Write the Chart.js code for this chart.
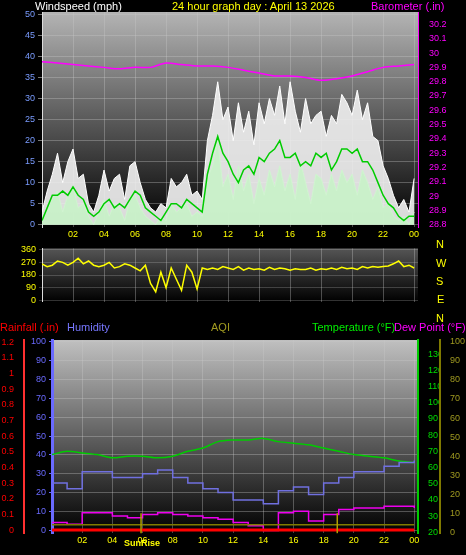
<!DOCTYPE html>
<html><head><meta charset="utf-8">
<script src="https://cdn.jsdelivr.net/npm/chart.js@4"></script>
<style>
body{margin:0;background:#000;width:466px;height:555px;overflow:hidden;position:relative;font-family:"Liberation Sans",Arial,sans-serif}
canvas{position:absolute;left:0}
.t{position:absolute;font-size:11px;white-space:nowrap;line-height:12px}
</style></head><body>
<canvas id="c1" style="top:0px" width="466" height="242"></canvas>
<canvas id="c2" style="top:240px" width="466" height="70"></canvas>
<canvas id="c3" style="top:320px" width="466" height="228"></canvas>
<div class="t" style="left:35px;top:0;color:#fff">Windspeed (mph)</div>
<div class="t" style="left:172px;top:0;color:#ff0">24 hour graph day : April 13 2026</div>
<div class="t" style="left:371px;top:0;color:#f0f">Barometer (.in)</div>
<div class="t" style="left:436px;top:238px;color:#ff0">N</div>
<div class="t" style="left:436px;top:257px;color:#ff0">W</div>
<div class="t" style="left:436px;top:275px;color:#ff0">S</div>
<div class="t" style="left:437px;top:293px;color:#ff0">E</div>
<div class="t" style="left:436px;top:312px;color:#ff0">N</div>
<div class="t" style="left:0;top:321px;color:#f00">Rainfall (.in)</div>
<div class="t" style="left:67px;top:321px;color:#77f">Humidity</div>
<div class="t" style="left:211px;top:321px;color:#a09a20">AQI</div>
<div class="t" style="left:312px;top:321px;color:#0e0">Temperature (°F)</div>
<div class="t" style="left:394px;top:321px;color:#f0f">Dew Point (°F)</div>
<div class="t" style="left:124px;top:537px;color:#ff0;font-size:9px;font-weight:bold">SunRise</div>
<script>
// ---- data ----
const windGust = [3,8,12, 17,10,15, 18,11,12, 5,3,7, 13,8,11, 12,6,14, 15,10,6, 4,3,5, 4,11,9, 10,12,7, 8,6,20, 26,34,25, 28,20,29, 22,27,19, 29,24,30, 26,33,24, 34,27,22, 30,24,26, 27,21,26, 24,31,29, 26,32,25, 29,21,20, 14,11,7, 4,6,3, 11];
const windSpeed = [1,4,6, 8,3,7, 9,4,5, 2,0,3, 6,2,5, 4,1,6, 7,4,2, 1,0,2, 1,5,3, 4,5,2, 3,2,11, 14,20,9, 12,6,14, 8,12,5, 11,7,13, 9,14,8, 12,6,15, 10,5,12, 11,7,12, 8,13,10, 12,7,13, 10,6,9, 4,5,2, 1,2,0, 3];
const windAvg = [1,4,7, 7,8,7, 9,7,6, 3,2,3, 5,6,4, 5,4,6, 8,7,4, 3,2,1, 3,5,5, 4,6,5, 4,3,12, 17,21,17, 15,12,10, 13,14,12, 16,15,17, 18,20,16, 16,17,14, 15,14,17, 16,17,13, 15,18,18, 17,18,15, 15,13,10, 7,5,4, 2,1,2, 2];
const windDir = [260,240,250, 280,270,250, 270,300,260, 280,250,240, 250,270,230, 240,260,250, 230,210,250, 120,60,200, 90,230,150, 70,250,200, 80,230,220, 230,220,240, 230,220,240, 215,230,220, 225,215,235, 220,230,225, 215,225,220, 220,230,215, 225,220,230, 220,235,225, 230,220,240, 230,240,235, 240,245,260, 280,240,250, 230];
const barometer = [29.94,29.93,29.92,29.91,29.90,29.89,29.90,29.90,29.93,29.92,29.91,29.91,29.90,29.88,29.86,29.84,29.84,29.83,29.81,29.82,29.84,29.87,29.90,29.91,29.92];
const temperature = [68,70,69,68,66,67,67,66,67,70,72,76,77,77,78,76,75,74,72,70,68,67,66,64,63];
const humidity = [25,22,31,31,28,28,30,32,28,25,22,20,16,16,14,21,23,19,25,28,31,31,34,36,37];
const dewPoint = [26,25,32,32,30,29,31,32,31,30,29,28,26,24,21,32,33,27,31,34,35,35,36,36,35];
const aqi = [4,4,4,4,4,4,4,4,4,4,4,4,4,4,4,4,4,4,4,4,4,4,4,4,4];
const rainfall = [0,0,0,0,0,0,0,0,0,0,0,0,0,0,0,0,0,0,0,0,0,0,0,0,0];
const hourTicks = [2,4,6,8,10,12,14,16,18,20,22,24];
const sunEvents = [5.9, 18.9];

const pts = (arr, step) => arr.map((v,i)=>({x:i*step,y:v}));
const F = {family:'"Liberation Sans",Arial,sans-serif',size:9};
const hourLabel = v => v===24?'00':String(v).padStart(2,'0');
const bg = {id:'bg',beforeDraw(c){const {ctx,chartArea:a}=c;ctx.save();ctx.fillStyle='#000';ctx.fillRect(0,0,c.width,c.height);
 const g=ctx.createLinearGradient(0,a.top,0,a.bottom);g.addColorStop(0,c.options.plugins.bg.top);g.addColorStop(1,'#000');
 ctx.fillStyle=g;ctx.fillRect(a.left,a.top,a.right-a.left,a.bottom-a.top);ctx.restore();}};
Chart.register(bg);
const fitW = w => function(s){s.width=w;};
const xAxis = (show) => ({type:'linear',min:0,max:24.25,afterBuildTicks:s=>{s.ticks=hourTicks.map(v=>({value:v}));},
 ticks:{display:show,color:'#ff0',font:F,callback:hourLabel,maxRotation:0,padding:2},
 grid:{color:'rgba(200,200,200,0.35)',borderDash:[1,2],drawTicks:false},border:{display:false}});
const base = {responsive:false,animation:false,plugins:{legend:{display:false},tooltip:{enabled:false}},elements:{point:{radius:0}}};

new Chart(document.getElementById('c1'),{type:'line',data:{datasets:[
 {data:pts(barometer,1),yAxisID:'yb',borderColor:'#ff00ff',borderWidth:1.5,tension:0.3},
 {data:pts(windAvg,1/3),yAxisID:'y',borderColor:'#00cc00',borderWidth:1.5},
 {data:pts(windSpeed,1/3),yAxisID:'y',borderColor:'#d0f4d0',backgroundColor:'rgba(200,240,200,0.95)',fill:'origin',borderWidth:1},
 {data:pts(windGust,1/3),yAxisID:'y',borderColor:'#ffffff',backgroundColor:'rgba(238,238,238,0.92)',fill:'origin',borderWidth:1}
]},options:{...base,layout:{padding:{top:12,bottom:0}},plugins:{...base.plugins,bg:{top:'#b4b4b4'}},scales:{
 x:xAxis(true),
 y:{position:'left',min:-0.6,max:50.6,afterFit:fitW(42),afterBuildTicks:s=>{s.ticks=[0,5,10,15,20,25,30,35,40,45,50].map(v=>({value:v}));},
   ticks:{color:'#7a9cff',font:F,padding:3},grid:{color:'rgba(200,200,200,0.35)',borderDash:[1,2],tickColor:'#777',tickLength:4},border:{color:'#ddd'}},
 yb:{position:'right',min:28.783,max:30.287,afterFit:fitW(48),afterBuildTicks:s=>{const t=[];for(let i=0;i<=14;i++)t.push({value:+(28.8+i*0.1).toFixed(1)});s.ticks=t;},
   ticks:{color:'#ff00ff',font:F,callback:v=>String(+v.toFixed(1)),padding:3},grid:{display:false,drawOnChartArea:false},border:{color:'#ff00ff'}}
}}});

new Chart(document.getElementById('c2'),{type:'line',data:{datasets:[
 {data:pts(windDir,1/3),borderColor:'#ffff00',borderWidth:1.5}
]},options:{...base,layout:{padding:{top:3,bottom:8}},plugins:{...base.plugins,bg:{top:'#555555'}},scales:{
 x:xAxis(false),
 y:{position:'left',min:-10,max:370,afterFit:fitW(42),afterBuildTicks:s=>{s.ticks=[0,90,180,270,360].map(v=>({value:v}));},
   ticks:{color:'#ffff00',font:F,padding:3},grid:{color:'rgba(200,200,200,0.25)',borderDash:[1,2],tickLength:3},border:{color:'#ddd'}},
 yr:{position:'right',min:0,max:360,afterFit:fitW(48),ticks:{display:false},grid:{display:false},border:{display:false}}
}}});

const sunPlugin={id:'sun',afterDatasetsDraw(c){const {ctx,scales}=c;ctx.save();ctx.strokeStyle='#b0a000';ctx.lineWidth=1.5;
 sunEvents.forEach(h=>{const x=scales.x.getPixelForValue(h);ctx.beginPath();ctx.moveTo(x,scales.ya.getPixelForValue(10));ctx.lineTo(x,c.chartArea.bottom);ctx.stroke();});ctx.restore();}};
new Chart(document.getElementById('c3'),{type:'line',plugins:[sunPlugin],data:{datasets:[
 {data:pts(aqi,1),yAxisID:'ya',borderColor:'#807a00',borderWidth:1.5},
 {data:pts(rainfall,1),yAxisID:'yr',borderColor:'#ff0000',borderWidth:3},
 {data:pts(dewPoint,1),yAxisID:'yt',borderColor:'#ee00ee',borderWidth:1.5,stepped:true},
 {data:pts(humidity,1),yAxisID:'yh',borderColor:'#7070e0',borderWidth:1.5,stepped:true},
 {data:pts(temperature,1),yAxisID:'yt',borderColor:'#00cc00',borderWidth:1.5,tension:0.3}
]},options:{...base,layout:{padding:{top:20,bottom:0}},plugins:{...base.plugins,bg:{top:'#c0c0c0'}},scales:{
 x:xAxis(true),
 yh:{position:'left',min:-1.6,max:101,afterFit:fitW(28),afterBuildTicks:s=>{s.ticks=[0,10,20,30,40,50,60,70,80,90,100].map(v=>({value:v}));},
   ticks:{color:'#6a6aff',font:F,padding:3},grid:{color:'rgba(200,200,200,0.35)',borderDash:[1,2],tickColor:'#6a6aff',tickLength:3},border:{color:'#6a6aff',width:3}},
 yr:{position:'left',min:-0.02,max:1.213,afterFit:fitW(24),afterBuildTicks:s=>{const t=[];for(let i=0;i<=12;i++)t.push({value:+(i*0.1).toFixed(1)});s.ticks=t;},
   ticks:{color:'#ff0000',font:F,callback:v=>String(+v.toFixed(1)),padding:2},grid:{display:false},border:{color:'#ff3030',width:2,dash:[2,2]}},
 yt:{position:'right',min:19.4,max:138.8,afterFit:fitW(22),afterBuildTicks:s=>{const t=[];for(let v=20;v<=130;v+=10)t.push({value:v});s.ticks=t;},
   ticks:{color:'#00dd00',font:F,padding:2},grid:{display:false},border:{color:'#00cc00',width:2}},
 ya:{position:'right',min:-0.5,max:101,afterFit:fitW(26),afterBuildTicks:s=>{const t=[];for(let v=0;v<=100;v+=10)t.push({value:v});s.ticks=t;},
   ticks:{color:'#a09a20',font:F,padding:2},grid:{display:false},border:{color:'#807a00',width:2,dash:[2,2]}}
}}});
</script></body></html>
